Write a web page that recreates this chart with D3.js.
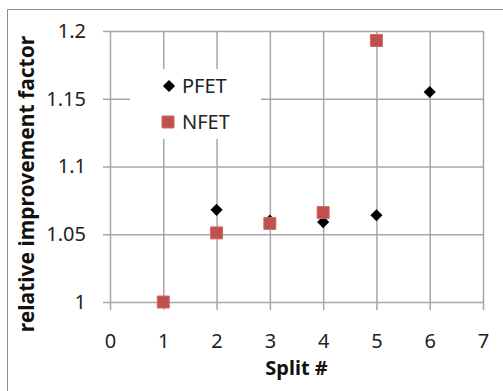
<!DOCTYPE html>
<html lang="en">
<head>
<meta charset="utf-8">
<title>relative improvement factor</title>
<script src="https://cdn.jsdelivr.net/npm/d3@7"></script>
<style>
  body{margin:0;background:#fff;font-family:"Noto Sans",sans-serif;}
  .tick text{font-size:20px;fill:#222;font-family:"Noto Sans",sans-serif;}
  .axisTitle{font-size:20px;font-weight:bold;fill:#111;}
  .legend text{font-size:20px;fill:#222;}
</style>
</head>
<body>
<div id="chart"></div>
<script>
// data
var splits = [1, 2, 3, 4, 5, 6];
var pfet = [null, 1.068, 1.060, 1.059, 1.064, 1.155];
var nfet = [1.000, 1.051, 1.058, 1.066, 1.193, null];
var xTicks = [0, 1, 2, 3, 4, 5, 6, 7];
var yTicks = [1, 1.05, 1.1, 1.15, 1.2];
var seriesNames = ["PFET", "NFET"];

var W = 503, H = 391;
// plot area edges ("top" is taken by window.top, so prefix them)
var pLeft = 110, pRight = 483, pTop = 31, pBottom = 302;

var svg = d3.select("#chart").append("svg")
    .attr("width", W).attr("height", H);

// outer frame (only top and left edges show)
svg.append("line").attr("x1", 7.5).attr("y1", 9.5).attr("x2", W).attr("y2", 9.5)
    .attr("stroke", "#8c8c8c").attr("stroke-width", 1);
svg.append("line").attr("x1", 7.5).attr("y1", 9.5).attr("x2", 7.5).attr("y2", H)
    .attr("stroke", "#8c8c8c").attr("stroke-width", 1);

var x = d3.scaleLinear().domain([0, 7]).range([pLeft, pRight]);
var y = d3.scaleLinear().domain([1, 1.2]).range([pBottom, pTop]);

// gridlines with ticks sticking out, done with axes
var xAxis = d3.axisBottom(x).tickValues(xTicks).tickFormat(d3.format("d"))
    .tickSizeInner(-(pBottom - pTop) - 8).tickSizeOuter(0).tickPadding(24);
var gx = svg.append("g").attr("transform", "translate(0," + (pBottom + 8) + ")").call(xAxis);
gx.select(".domain").remove();
gx.selectAll(".tick line").attr("stroke", "#a6a6a6").attr("stroke-width", 1.5);

var yAxis = d3.axisLeft(y).tickValues(yTicks).tickFormat(function(d){ return String(+d.toFixed(2)); })
    .tickSizeInner(-(pRight - pLeft) - 7).tickSizeOuter(0).tickPadding(17);
var gy = svg.append("g").attr("transform", "translate(" + (pLeft - 7) + ",0)").call(yAxis);
gy.select(".domain").remove();
gy.selectAll(".tick line").attr("stroke", "#a6a6a6").attr("stroke-width", 1.5);

// legend box covers the grid
var legend = svg.append("g").attr("class", "legend");
legend.append("rect").attr("x", 130).attr("y", 69).attr("width", 131).attr("height", 70)
    .attr("fill", "#fff");

var diamond = d3.symbol().type(d3.symbolSquare).size(74);
var square = d3.symbol().type(d3.symbolSquare).size(144);

legend.append("path").attr("d", diamond).attr("fill", "#000")
    .attr("transform", "translate(169,86) rotate(45)");
legend.append("text").attr("x", 182).attr("y", 93).text(seriesNames[0]);
legend.append("path").attr("d", square).attr("fill", "#c0504d").attr("stroke", "#cd6b68")
    .attr("transform", "translate(168,122)");
legend.append("text").attr("x", 182).attr("y", 129).text(seriesNames[1]);

// PFET points
svg.selectAll(".pfet")
    .data(splits.map(function(s, i){ return {x: s, v: pfet[i]}; }).filter(function(d){ return d.v != null; }))
    .enter().append("path")
    .attr("class", "pfet")
    .attr("d", diamond).attr("fill", "#000")
    .attr("transform", function(d){ return "translate(" + x(d.x) + "," + y(d.v) + ") rotate(45)"; });

// NFET points
svg.selectAll(".nfet")
    .data(splits.map(function(s, i){ return {x: s, v: nfet[i]}; }).filter(function(d){ return d.v != null; }))
    .enter().append("path")
    .attr("class", "nfet")
    .attr("d", square).attr("fill", "#c0504d").attr("stroke", "#cd6b68")
    .attr("transform", function(d){ return "translate(" + x(d.x) + "," + y(d.v) + ")"; });

// axis titles
svg.append("text").attr("class", "axisTitle")
    .attr("text-anchor", "middle")
    .attr("x", (pLeft + pRight) / 2).attr("y", 375)
    .text("Split #");
svg.append("text").attr("class", "axisTitle")
    .attr("text-anchor", "middle")
    .attr("transform", "translate(34,184) rotate(-90)")
    .style("font-size", "21px")
    .text("relative improvement factor");
</script>
</body>
</html>
